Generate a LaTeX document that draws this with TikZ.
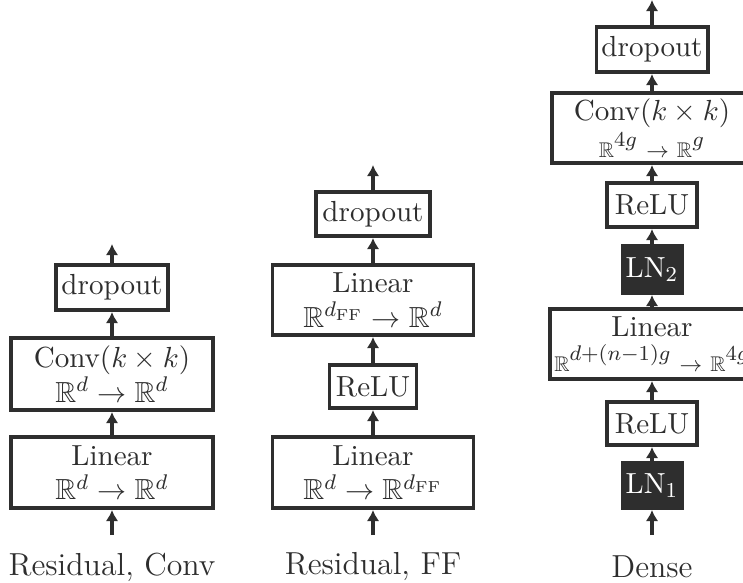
\documentclass[tikz,border=0pt]{standalone}
\usepackage{amsmath,amssymb}
\usetikzlibrary{arrows.meta}
\definecolor{ink}{HTML}{2E2E2E}
% small blackboard R and arrow used in the dense block
\newcommand\sR{\text{\fontsize{8}{9}\selectfont$\mathbb{R}$}}
\newcommand\sto{\mathrel{\text{\fontsize{8}{9}\selectfont$\rightarrow$}}}
\tikzset{
  sz/.style 2 args={minimum width=#1*0.37685pt, minimum height=#2*0.37685pt},
  blk/.style={draw=ink, line width=1.5pt, fill=white, inner sep=0pt, align=center, text=ink,
    font=\fontsize{10.95}{13}\selectfont},
  lnblk/.style={blk, fill=ink, text=white},
  flow/.style={draw=ink, line width=1.3pt, -{Latex[length=4.2pt,width=4.8pt]}},
  caption/.style={font=\fontsize{12}{14}\selectfont, text=ink, inner sep=0pt},
}
\begin{document}
\begin{tikzpicture}[x=0.37685pt, y=-0.37685pt]
\useasboundingbox (0,0) rectangle (743,582);

% ---- Residual, Conv ----
\node[blk, sz={112}{45}] (a3) at (112,287.5) {dropout};
\node[blk, sz={202}{72}] (a2) at (112,374) {Conv$(k\times k)$\\$\mathbb{R}^d\rightarrow\mathbb{R}^d$};
\node[blk, sz={202}{71}] (a1) at (112,472.5) {Linear\\$\mathbb{R}^d\rightarrow\mathbb{R}^d$};
\coordinate (aout) at (112,244);
\coordinate (ain) at (112,535);
\draw[flow] (ain) -- (a1);
\draw[flow] (a1) -- (a2);
\draw[flow] (a2) -- (a3);
\draw[flow] (a3) -- (aout);
\node[caption] (acap) at (112,567) {Residual, Conv};

% ---- Residual, FF ----
\node[blk, sz={114}{44}] (b4) at (373,214) {dropout};
\node[blk, sz={201}{70}] (b3) at (373,300) {Linear\\$\mathbb{R}^{d_{\mathrm{FF}}}\rightarrow\mathbb{R}^d$};
\node[blk, sz={87}{43}] (b2) at (373,386.5) {ReLU};
\node[blk, sz={201}{71}] (b1) at (373,472.5) {Linear\\$\mathbb{R}^d\rightarrow\mathbb{R}^{d_{\mathrm{FF}}}$};
\coordinate (bout) at (373,165);
\coordinate (bin) at (373,535);
\draw[flow] (bin) -- (b1);
\draw[flow] (b1) -- (b2);
\draw[flow] (b2) -- (b3);
\draw[flow] (b3) -- (b4);
\draw[flow] (b4) -- (bout);
\node[caption] (bcap) at (373,567) {Residual, FF};

% ---- Dense ----
\node[blk, sz={111}{45}] (c7) at (652,49.5) {dropout};
\node[blk, sz={200}{70}] (c6) at (652,128) {Conv$(k\times k)$\\[1pt]$\sR^{4g}\sto\sR^{g}$};
\node[blk, sz={90}{44}] (c5) at (652,205) {ReLU};
\node[lnblk, sz={59}{47}] (c4) at (652,269.5) {LN$_2$};
\node[blk, sz={204}{70}] (c3) at (652,344) {Linear\\$\sR^{d+(n-1)g}\sto\sR^{4g}$};
\node[blk, sz={90}{43}] (c2) at (652,423.5) {ReLU};
\node[lnblk, sz={59}{45}] (c1) at (652,485.5) {LN$_1$};
\coordinate (cout) at (652,0);
\coordinate (cin) at (652,535);
\draw[flow] (cin) -- (c1);
\draw[flow] (c1) -- (c2);
\draw[flow] (c2) -- (c3);
\draw[flow] (c3) -- (c4);
\draw[flow] (c4) -- (c5);
\draw[flow] (c5) -- (c6);
\draw[flow] (c6) -- (c7);
\draw[flow] (c7) -- (cout);
\node[caption] (ccap) at (652,567) {Dense};
\end{tikzpicture}
\end{document}
